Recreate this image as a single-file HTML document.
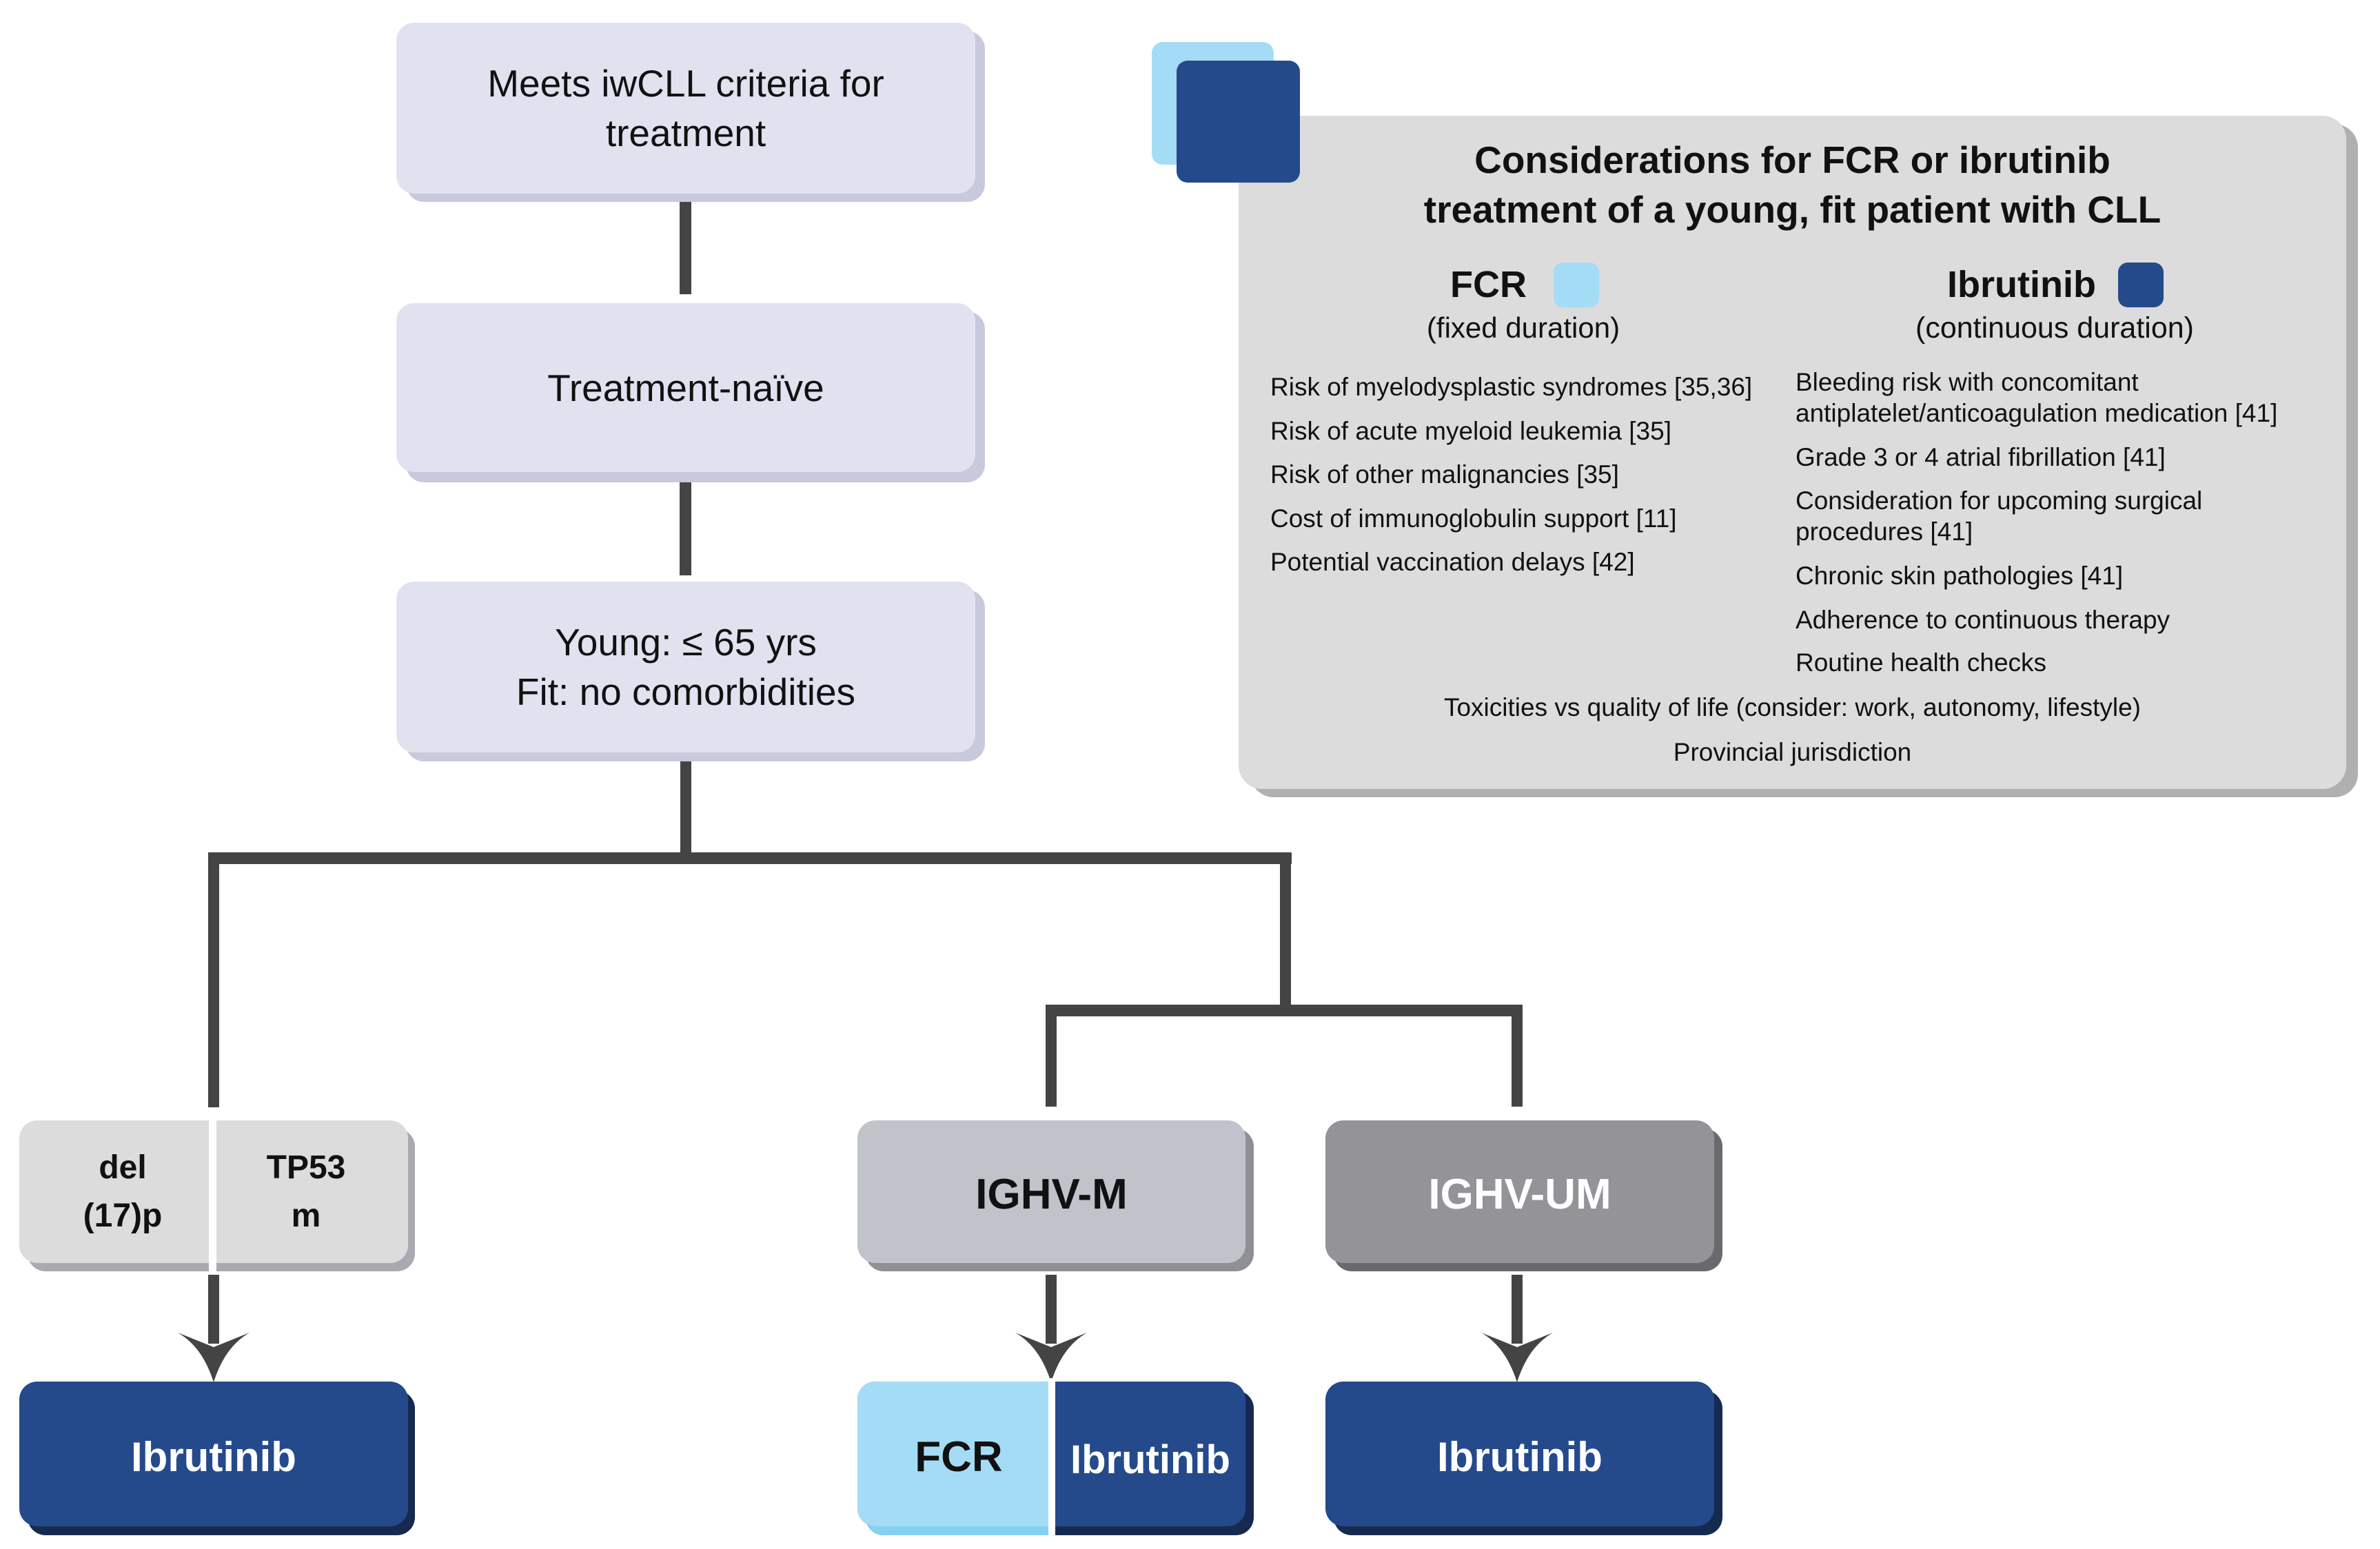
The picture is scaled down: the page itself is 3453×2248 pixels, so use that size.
<!DOCTYPE html>
<html><head><meta charset="utf-8"><style>
html,body{margin:0;padding:0;background:#fff;}
body{width:3453px;height:2248px;position:relative;overflow:hidden;font-family:"Liberation Sans",sans-serif;}
.b{position:absolute;border-radius:26px;display:flex;align-items:center;justify-content:center;text-align:center;box-sizing:border-box;}
.t{position:absolute;white-space:nowrap;color:#111;}
</style></head><body>
<svg width="3453" height="2248" style="position:absolute;left:0;top:0">
<g fill="#444">
<rect x="986" y="287" width="17" height="140"/>
<rect x="986" y="695" width="17" height="140"/>
<rect x="987" y="1100" width="16" height="154"/>
<rect x="302" y="1237" width="1572" height="17"/>
<rect x="302" y="1237" width="16" height="370"/>
<rect x="1857" y="1237" width="16" height="238"/>
<rect x="1517" y="1458" width="692" height="17"/>
<rect x="1517" y="1458" width="16" height="148"/>
<rect x="2193" y="1458" width="16" height="148"/>
<rect x="302" y="1850" width="16" height="100"/>
<rect x="1517" y="1850" width="16" height="100"/>
<rect x="2193" y="1850" width="16" height="100"/>
<path d="M310,2006 C300,1975 285,1950 258,1934 L310,1955 L362,1934 C335,1950 320,1975 310,2006 Z"/>
<path d="M1525,2006 C1515,1975 1500,1950 1473,1934 L1525,1955 L1577,1934 C1550,1950 1535,1975 1525,2006 Z"/>
<path d="M2201,2006 C2191,1975 2176,1950 2149,1934 L2201,1955 L2253,1934 C2226,1950 2211,1975 2201,2006 Z"/>
</g>
</svg>

<!-- top boxes -->
<div class="b" style="left:589px;top:45px;width:840px;height:248px;background:#c9c9dd"></div>
<div class="b" style="left:575px;top:33px;width:840px;height:248px;background:#e1e2ef;font-size:55px;line-height:72px;color:#111">Meets iwCLL criteria for<br>treatment</div>
<div class="b" style="left:589px;top:452px;width:840px;height:248px;background:#c9c9dd"></div>
<div class="b" style="left:575px;top:440px;width:840px;height:245px;background:#e1e2ef;font-size:55px;color:#111">Treatment-naïve</div>
<div class="b" style="left:589px;top:856px;width:840px;height:249px;background:#c9c9dd"></div>
<div class="b" style="left:575px;top:844px;width:840px;height:248px;background:#e1e2ef;font-size:55px;line-height:72px;color:#111">Young: ≤ 65 yrs<br>Fit: no comorbidities</div>

<!-- row 2 -->
<div class="b" style="left:40px;top:1638px;width:562px;height:207px;background:#a9a9b1"></div>
<div class="b" style="left:28px;top:1626px;width:564px;height:207px;background:#dcdcdc"></div>
<div style="position:absolute;left:303px;top:1620px;width:11px;height:230px;background:#fff"></div>
<div class="t" style="left:28px;top:1660px;width:300px;text-align:center;font-weight:bold;font-size:48px;line-height:70px">del<br>(17)p</div>
<div class="t" style="left:314px;top:1660px;width:260px;text-align:center;font-weight:bold;font-size:48px;line-height:70px">TP53<br>m</div>

<div class="b" style="left:1256px;top:1638px;width:563px;height:207px;background:#8f9096"></div>
<div class="b" style="left:1244px;top:1626px;width:563px;height:207px;background:#c1c3cb;font-weight:bold;font-size:62px;color:#111;padding-top:8px">IGHV-M</div>
<div class="b" style="left:1935px;top:1638px;width:564px;height:207px;background:#6a6a6e"></div>
<div class="b" style="left:1923px;top:1626px;width:564px;height:207px;background:#939398;font-weight:bold;font-size:62px;color:#fff;padding-top:8px">IGHV-UM</div>

<!-- row 3 -->
<div class="b" style="left:40px;top:2018px;width:562px;height:210px;background:#162a50"></div>
<div class="b" style="left:28px;top:2005px;width:564px;height:210px;background:#244a8c;font-weight:bold;font-size:60px;color:#fff;padding-top:8px">Ibrutinib</div>

<div class="b" style="left:1256px;top:2018px;width:563px;height:210px;background:#162a50"></div>
<div class="b" style="left:1256px;top:2018px;width:270px;height:210px;background:#84d2f0;border-radius:26px 0 0 26px"></div>
<div class="b" style="left:1244px;top:2005px;width:563px;height:210px;background:#244a8c"></div>
<div class="b" style="left:1244px;top:2005px;width:282px;height:210px;background:#a5dcf5;border-radius:26px 0 0 26px;font-weight:bold;font-size:62px;color:#111;padding-left:12px;padding-top:8px">FCR</div>
<div style="position:absolute;left:1521px;top:2000px;width:10px;height:230px;background:#fff"></div>
<div class="t" style="left:1531px;top:2013px;width:276px;height:210px;display:flex;align-items:center;justify-content:center;font-weight:bold;font-size:58px;color:#fff">Ibrutinib</div>

<div class="b" style="left:1935px;top:2018px;width:564px;height:210px;background:#162a50"></div>
<div class="b" style="left:1923px;top:2005px;width:564px;height:210px;background:#244a8c;font-weight:bold;font-size:60px;color:#fff;padding-top:8px">Ibrutinib</div>

<!-- right panel -->
<div class="b" style="left:1671px;top:61px;width:177px;height:178px;background:#a5dcf5;border-radius:16px"></div>
<div class="b" style="left:1814px;top:180px;width:1607px;height:977px;background:#b0b0b0;border-radius:34px"></div>
<div class="b" style="left:1797px;top:168px;width:1607px;height:977px;background:#dcdcdc;border-radius:34px"></div>
<div class="b" style="left:1707px;top:88px;width:179px;height:177px;background:#244a8c;border-radius:16px"></div>

<div class="t" style="left:1797px;top:196px;width:1607px;text-align:center;font-weight:bold;font-size:55px;line-height:72px">Considerations for FCR or ibrutinib<br>treatment of a young, fit patient with CLL</div>

<div class="t" style="left:2104px;top:382px;font-weight:bold;font-size:54px">FCR</div>
<div style="position:absolute;left:2254px;top:381px;width:66px;height:65px;background:#a5dcf5;border-radius:14px"></div>
<div class="t" style="left:2010px;top:452px;width:400px;text-align:center;font-size:42px">(fixed duration)</div>

<div class="t" style="left:2825px;top:382px;font-weight:bold;font-size:54px">Ibrutinib</div>
<div style="position:absolute;left:3073px;top:381px;width:66px;height:65px;background:#244a8c;border-radius:14px"></div>
<div class="t" style="left:2731px;top:452px;width:500px;text-align:center;font-size:43px">(continuous duration)</div>

<div class="t" style="left:1843px;top:530px;font-size:37px;line-height:63.5px">Risk of myelodysplastic syndromes [35,36]<br>Risk of acute myeloid leukemia [35]<br>Risk of other malignancies [35]<br>Cost of immunoglobulin support [11]<br>Potential vaccination delays [42]</div>

<div class="t" style="left:2605px;top:532px;font-size:37px;line-height:45px">Bleeding risk with concomitant<br>antiplatelet/anticoagulation medication [41]</div>
<div class="t" style="left:2605px;top:641px;font-size:37px;line-height:45px">Grade 3 or 4 atrial fibrillation [41]</div>
<div class="t" style="left:2605px;top:704px;font-size:37px;line-height:45px">Consideration for upcoming surgical<br>procedures [41]</div>
<div class="t" style="left:2605px;top:813px;font-size:37px;line-height:45px">Chronic skin pathologies [41]</div>
<div class="t" style="left:2605px;top:877px;font-size:37px;line-height:45px">Adherence to continuous therapy</div>
<div class="t" style="left:2605px;top:939px;font-size:37px;line-height:45px">Routine health checks</div>

<div class="t" style="left:1797px;top:1004px;width:1607px;text-align:center;font-size:37px;line-height:45px">Toxicities vs quality of life (consider: work, autonomy, lifestyle)</div>
<div class="t" style="left:1797px;top:1069px;width:1607px;text-align:center;font-size:37px;line-height:45px">Provincial jurisdiction</div>
</body></html>
